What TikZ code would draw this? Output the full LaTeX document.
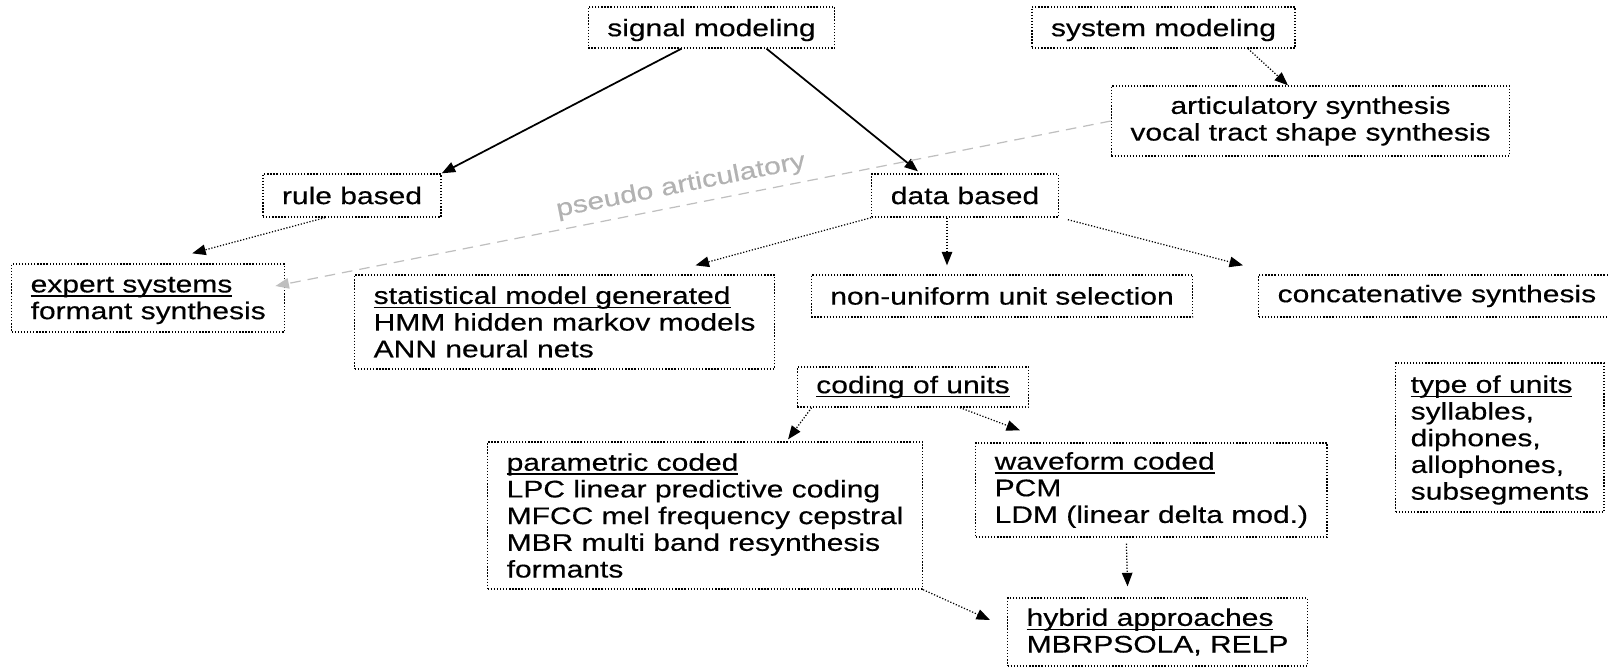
\documentclass[tikz,border=0pt]{standalone}
\usepackage{fontspec}
\setmainfont{Liberation Sans}[FakeStretch=1.25, FakeBold=0.4]
\usetikzlibrary{arrows.meta,calc}

\newcommand{\undl}[1]{\setbox0\hbox{#1}\rlap{\rule[-2.4pt]{\wd0}{0.8pt}}\box0}

\tikzset{
  unitbox/.style={draw, line width=0.75pt, densely dotted, inner xsep=0.38cm, inner ysep=0pt,
    font=\fontsize{13.66}{15.2}\selectfont},
  listbox/.style={unitbox, align=left, anchor=west},
  mainflow/.style={line width=1pt, -{Triangle[length=0.27cm,width=0.21cm]}},
  flow/.style={line width=0.7pt, densely dotted, -{Triangle[length=0.27cm,width=0.21cm]}},
  pseudo/.style={line width=0.7pt, black!25, dash pattern=on 6pt off 4pt,
    -{Triangle[length=0.27cm,width=0.21cm]}}
}

\begin{document}
\begin{tikzpicture}[x=0.02cm, y=0.02cm]
\useasboundingbox (0,0) rectangle (1608,-667);

\node[unitbox, minimum width=4.86cm, minimum height=0.82cm, text depth=0pt] (sigmod) at (711.5, -27.5) {signal modeling};
\node[unitbox, minimum width=5.26cm, minimum height=0.82cm, text depth=0pt] (sysmod) at (1163.5, -27.5) {system modeling};
\node[unitbox, align=center, minimum width=7.90cm, minimum height=1.40cm] (artic) at (1310.5, -121) {articulatory synthesis\\vocal tract shape synthesis};

\node[unitbox, minimum width=3.56cm, minimum height=0.86cm] (rule) at (352, -195.5) {rule based};
\node[unitbox, minimum width=3.64cm, minimum height=0.86cm] (data) at (965, -195.5) {data based};

\node[listbox, minimum height=1.36cm, text depth=0pt] (expert) at (11, -298) {\undl{expert systems}\\formant synthesis};
\node[listbox, minimum height=1.88cm] (stat) at (354, -322) {\undl{statistical model generated}\\HMM hidden markov models\\ANN neural nets};
\node[unitbox, minimum width=7.56cm, minimum height=0.84cm] (nonuni) at (1002, -296) {non-uniform unit selection};
\node[unitbox, minimum height=0.84cm, anchor=west] (concat) at (1258, -296) {concatenative synthesis};

\node[unitbox, minimum width=4.60cm, minimum height=0.80cm] (coding) at (913, -387) {\undl{coding of units}};
\node[listbox, inner xsep=0.3cm, minimum height=2.98cm, text depth=0pt] (type) at (1395, -437.5) {\undl{type of units}\\syllables,\\diphones,\\allophones,\\subsegments};

\node[listbox, minimum height=2.94cm] (param) at (487, -515.5) {\undl{parametric coded}\\LPC linear predictive coding\\MFCC mel frequency cepstral\\MBR multi band resynthesis\\formants};
\node[listbox, minimum height=1.88cm] (wave) at (975, -490) {\undl{waveform coded}\\PCM\\LDM (linear delta mod.)};
\node[listbox, minimum height=1.36cm] (hybrid) at (1007, -632) {\undl{hybrid approaches}\\MBRPSOLA, RELP};

% signal / system modeling
\draw[mainflow] ($(sigmod.south)+(-30,0)$) -- (rule.north east);
\draw[mainflow] ($(sigmod.south)+(55,0)$) -- ($(data.north)+(-47,2)$);
\draw[flow] ($(sysmod.south)+(84.5,0)$) -- ($(artic.north)+(-22.5,0)$);

\draw[flow] ($(rule.south)+(-27,0)$) -- ($(expert.north)+(44,10)$);
\draw[flow] (data.south west) -- ($(stat.north)+(131,9)$);
\draw[flow] ($(data.south)+(-18,0)$) -- ($(nonuni.north)+(-55,9)$);
\draw[flow] ($(data.south east)+(9,-2)$) -- ($(concat.north west)+(-15,9)$);

% coding
\draw[flow] ($(coding.south west)+(15,0)$) -- ($(param.north)+(83,2)$);
\draw[flow] ($(coding.south)+(47,0)$) -- ($(wave.north west)+(45,12)$);
\draw[flow] ($(wave.south)+(-25,-6)$) -- ($(hybrid.north)+(-30,11)$);
\draw[flow] (param.south east) -- ($(hybrid.west)+(-17,12)$);

\draw[pseudo] (artic.west) -- node[pos=0.51, sloped, above=1pt, black!30,
  font=\fontsize{13.66}{15.2}\selectfont] {pseudo articulatory} ($(expert.east)+(-10,12)$);
\end{tikzpicture}
\end{document}
